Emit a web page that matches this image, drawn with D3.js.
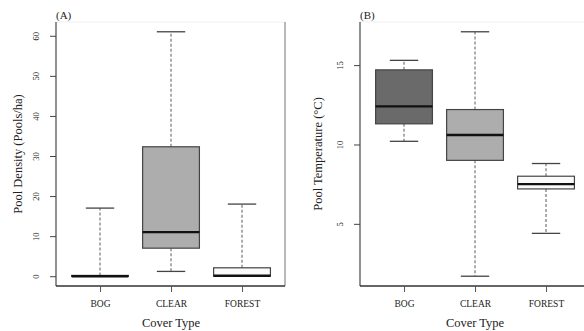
<!DOCTYPE html>
<html>
<head>
<meta charset="utf-8">
<script src="https://cdn.jsdelivr.net/npm/d3@7"></script>
<style>
  body { margin: 0; background: #fff; }
  svg text { font-family: "Liberation Serif", "DejaVu Serif", serif; fill: #222; }
</style>
</head>
<body>
<div id="chart"></div>
<script>
// cover types shared by both panels
const categories = ['BOG', 'CLEAR', 'FOREST'];
const boxFills = ['#6a6a6a', '#adadad', '#fafafa'];

// (A) pool density, pools/ha: whisker low, Q1, median, Q3, whisker high
const densityLow = [0, 1.2, 0];
const densityQ1 = [0, 7, 0];
const densityMed = [0, 11, 0.1];
const densityQ3 = [0.2, 32.3, 2.1];
const densityHigh = [17, 61, 18];
const densityTicks = [0, 10, 20, 30, 40, 50, 60];

// (B) pool temperature, deg C
const tempLow = [10.2, 1.7, 4.4];
const tempQ1 = [11.3, 9.0, 7.2];
const tempMed = [12.4, 10.6, 7.5];
const tempQ3 = [14.7, 12.2, 8.0];
const tempHigh = [15.3, 17.1, 8.8];
const tempTicks = [5, 10, 15];

const width = 584, height = 331;
const svg = d3.select('#chart').append('svg')
  .attr('width', width)
  .attr('height', height);

function buildStats(low, q1, med, q3, high) {
  return categories.map((c, i) => ({
    cat: c, idx: i + 1, low: low[i], q1: q1[i], med: med[i], q3: q3[i], high: high[i], fill: boxFills[i]
  }));
}

// R-style 4% padding on both axes
function padDomain(lo, hi) {
  const p = (hi - lo) * 0.04;
  return [lo - p, hi + p];
}

function drawPanel(opts) {
  const { left, right, top, bottom, stats, ticks, label, yTitle, showRight } = opts;
  const g = svg.append('g');

  const lo = d3.min(stats, d => d.low), hi = d3.max(stats, d => d.high);
  const y = d3.scaleLinear().domain(padDomain(lo, hi)).range([bottom, top]);
  const x = d3.scaleLinear().domain([0.38, 3.62]).range([left, left + 3.24 * 71]);
  const boxW = 0.8 * 71, capW = 0.4 * 71;

  // frame: faint top, optional right
  g.append('line').attr('x1', left).attr('x2', right).attr('y1', top).attr('y2', top)
    .attr('stroke', '#f0f0f0');
  if (showRight) {
    g.append('line').attr('x1', right).attr('x2', right).attr('y1', top).attr('y2', bottom)
      .attr('stroke', '#8a8a8a').attr('stroke-width', 1.2);
  }

  // y axis
  const yAxis = d3.axisLeft(y).tickValues(ticks).tickSize(6);
  const ya = g.append('g').attr('transform', `translate(${left},0)`).call(yAxis);
  ya.select('.domain').attr('d', `M0,${top}V${bottom}`).attr('stroke', '#555').attr('stroke-width', 1.3);
  ya.selectAll('.tick line').attr('stroke', '#444');
  ya.selectAll('.tick text')
    .attr('font-size', 8.5)
    .attr('text-anchor', 'middle')
    .attr('x', 0).attr('dy', 0).attr('y', 3)
    .attr('transform', 'translate(-20,0) rotate(-90)');

  // x axis
  const xAxis = d3.axisBottom(x).tickValues([1, 2, 3]).tickFormat(d => categories[d - 1]).tickSize(6).tickPadding(8);
  const xa = g.append('g').attr('transform', `translate(0,${bottom})`).call(xAxis);
  xa.select('.domain').attr('d', `M${left},0H${Math.min(right, width)}`).attr('stroke', '#333').attr('stroke-width', 1.3);
  xa.selectAll('.tick line').attr('stroke', '#555');
  xa.selectAll('.tick text').attr('font-size', 9.5);

  // whiskers
  const boxes = g.selectAll('g.box').data(stats).enter().append('g').attr('class', 'box');
  boxes.append('line')
    .attr('x1', d => x(d.idx)).attr('x2', d => x(d.idx))
    .attr('y1', d => y(d.q3)).attr('y2', d => y(d.high))
    .attr('stroke', '#777').attr('stroke-dasharray', '3,2').attr('stroke-width', 1.2);
  boxes.append('line')
    .attr('x1', d => x(d.idx)).attr('x2', d => x(d.idx))
    .attr('y1', d => y(d.q1)).attr('y2', d => y(d.low))
    .attr('stroke', '#777').attr('stroke-dasharray', '3,2').attr('stroke-width', 1.2);
  // caps
  boxes.selectAll('line.cap').data(d => [{ i: d.idx, v: d.high }, { i: d.idx, v: d.low }]).enter()
    .append('line').attr('class', 'cap')
    .attr('x1', d => x(d.i) - capW / 2).attr('x2', d => x(d.i) + capW / 2)
    .attr('y1', d => y(d.v)).attr('y2', d => y(d.v))
    .attr('stroke', '#444').attr('stroke-width', 1.3);
  // box
  boxes.append('rect')
    .attr('x', d => x(d.idx) - boxW / 2).attr('width', boxW)
    .attr('y', d => y(d.q3)).attr('height', d => Math.max(0.5, y(d.q1) - y(d.q3)))
    .attr('fill', d => d.fill).attr('stroke', '#444').attr('stroke-width', 1.2);
  // median
  boxes.append('line')
    .attr('x1', d => x(d.idx) - boxW / 2).attr('x2', d => x(d.idx) + boxW / 2)
    .attr('y1', d => y(d.med)).attr('y2', d => y(d.med))
    .attr('stroke', '#111').attr('stroke-width', 2.4);

  // panel label, titles
  g.append('text').attr('x', left).attr('y', 19).attr('font-size', 11).text(label);
  g.append('text').attr('x', x(2)).attr('y', 327)
    .attr('text-anchor', 'middle').attr('font-size', 12.5).text('Cover Type');
  g.append('text')
    .attr('transform', `translate(${opts.titleX},${(top + bottom) / 2}) rotate(-90)`)
    .attr('text-anchor', 'middle').attr('font-size', 12.5).text(yTitle);
}

drawPanel({
  left: 56, right: 285, top: 22, bottom: 286,
  stats: buildStats(densityLow, densityQ1, densityMed, densityQ3, densityHigh),
  ticks: densityTicks, label: '(A)', yTitle: 'Pool Density (Pools/ha)', showRight: true, titleX: 22
});

drawPanel({
  left: 360, right: 590, top: 22, bottom: 286,
  stats: buildStats(tempLow, tempQ1, tempMed, tempQ3, tempHigh),
  ticks: tempTicks, label: '(B)', yTitle: 'Pool Temperature (\u00B0C)', showRight: false, titleX: 322
});
</script>
</body>
</html>
